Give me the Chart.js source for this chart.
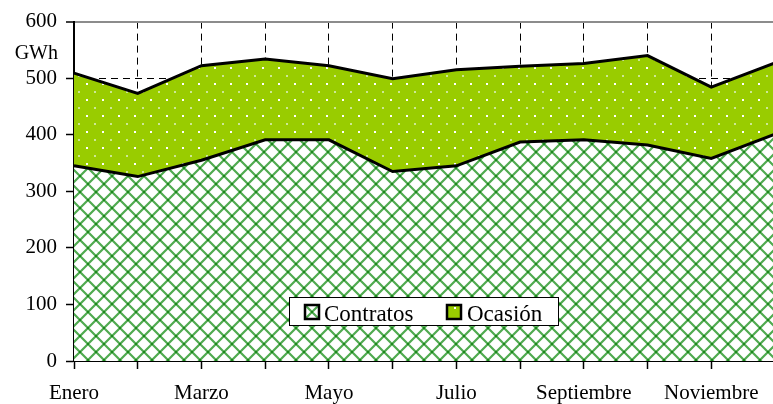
<!DOCTYPE html>
<html>
<head>
<meta charset="utf-8">
<script src="https://cdn.jsdelivr.net/npm/chart.js@4/dist/chart.umd.min.js"></script>
<style>
  html, body { margin: 0; padding: 0; background: #fff; overflow: hidden; }
  #wrap { position: relative; width: 775px; height: 404px; }
</style>
</head>
<body>
<div id="wrap"><canvas id="myChart"></canvas></div>
<script>
'use strict';
const meses = ['Enero', 'Febrero', 'Marzo', 'Abril', 'Mayo', 'Junio', 'Julio',
    'Agosto', 'Septiembre', 'Octubre', 'Noviembre', 'Diciembre'];
const contratos = [345, 326, 355, 391, 391, 335, 345, 387, 391, 382, 358, 401];
const ocasion = [164, 147, 167, 143, 131, 164, 170, 134, 135, 158, 126, 126];
const yTicks = [0, 100, 200, 300, 400, 500, 600];

const FONT = '"Liberation Serif", "Times New Roman", serif';

function hatchPattern() {
    const c = document.createElement('canvas');
    c.width = 16; c.height = 16;
    const g = c.getContext('2d');
    g.fillStyle = '#fff';
    g.fillRect(0, 0, 16, 16);
    g.strokeStyle = 'rgb(80,170,80)';
    g.lineWidth = 2.2;
    for (const off of [-16, 0, 16]) {
        g.beginPath();
        g.moveTo(off, 0); g.lineTo(off + 16, 16);
        g.moveTo(off + 16, 0); g.lineTo(off, 16);
        g.stroke();
    }
    g.fillStyle = 'rgb(30,135,30)';
    g.fillRect(7, 7, 2, 2);
    g.fillRect(-1, -1, 2, 2); g.fillRect(15, -1, 2, 2);
    g.fillRect(-1, 15, 2, 2); g.fillRect(15, 15, 2, 2);
    return g.createPattern(c, 'repeat');
}

function dotPattern() {
    const c = document.createElement('canvas');
    c.width = 16; c.height = 16;
    const g = c.getContext('2d');
    g.fillStyle = '#99cc00';
    g.fillRect(0, 0, 16, 16);
    g.fillStyle = '#ffffff';
    g.fillRect(6, 3, 2, 2);
    g.fillStyle = 'rgb(205,232,150)';
    g.fillRect(14, 11, 2, 2);
    return g.createPattern(c, 'repeat');
}

const legendBox = {
    id: 'legendBox',
    afterDraw(chart) {
        const ctx = chart.ctx;
        const ds = chart.data.datasets;
        ctx.save();
        ctx.fillStyle = '#fff';
        ctx.fillRect(289, 297, 269, 28);
        ctx.strokeStyle = '#000';
        ctx.lineWidth = 1;
        ctx.strokeRect(289.5, 297.5, 269, 28);
        const items = [{x: 305, tx: 324}, {x: 447, tx: 467}];
        ctx.font = '23px ' + FONT;
        ctx.textBaseline = 'alphabetic';
        items.forEach((it, i) => {
            ctx.fillStyle = ds[i].backgroundColor;
            ctx.fillRect(it.x, 305, 14, 14);
            ctx.lineWidth = 2.5;
            ctx.strokeStyle = '#000';
            ctx.strokeRect(it.x, 305, 14, 14);
            ctx.fillStyle = '#000';
            ctx.fillText(ds[i].label, it.tx, 321);
        });
        ctx.font = '20px ' + FONT;
        ctx.textAlign = 'right';
        ctx.fillText('GWh', 58, 59);
        ctx.restore();
    }
};

const ctx = document.getElementById('myChart').getContext('2d');
new Chart(ctx, {
    type: 'line',
    data: {
        labels: meses,
        datasets: [{
            label: 'Contratos',
            data: contratos,
            backgroundColor: hatchPattern(),
            borderColor: '#000',
            borderWidth: 3,
            pointRadius: 0,
            fill: 'origin'
        }, {
            label: 'Ocasión',
            data: ocasion,
            backgroundColor: dotPattern(),
            borderColor: '#000',
            borderWidth: 3,
            pointRadius: 0,
            fill: '-1'
        }]
    },
    options: {
        responsive: true,
        maintainAspectRatio: false,
        animation: false,
        layout: {padding: {top: 21, left: 0, right: 0, bottom: 0}},
        plugins: {
            legend: {display: false},
            tooltip: {enabled: false}
        },
        scales: {
            x: {
                offset: false,
                afterFit: s => {
                    s.height = 43;
                    s.paddingLeft = 0;
                    s.paddingRight = 0;
                },
                grid: {
                    color: '#000',
                    lineWidth: 1,
                    tickLength: 8,
                    tickColor: '#000',
                    tickWidth: 1.5
                },
                border: {color: '#000', width: 2, dash: [7, 5]},
                ticks: {
                    autoSkip: false,
                    maxRotation: 0,
                    padding: 12,
                    color: '#000',
                    font: {family: FONT, size: 21},
                    callback: (v, i) => (i % 2 === 0 ? meses[i] : '')
                }
            },
            y: {
                stacked: true,
                min: 0,
                max: 600,
                afterFit: s => { s.width = 74; },
                afterBuildTicks: s => { s.ticks = yTicks.map(v => ({value: v})); },
                grid: {
                    color: c => (c.tick && c.tick.value === 600 ? '#8c8c8c' : '#000'),
                    lineWidth: c => (c.tick && c.tick.value === 600 ? 2 : 1),
                    tickLength: 8,
                    tickColor: '#000',
                    tickWidth: 1.5
                },
                border: {
                    color: '#000',
                    width: 2,
                    dash: c => (c.tick && c.tick.value === 600 ? [] : [7, 5])
                },
                ticks: {
                    padding: 9,
                    color: '#000',
                    font: {family: FONT, size: 21}
                }
            }
        }
    },
    plugins: [legendBox]
});
</script>
</body>
</html>
